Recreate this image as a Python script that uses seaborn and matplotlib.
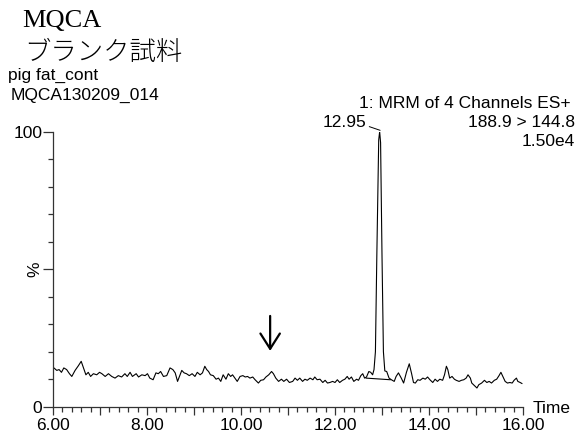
import matplotlib
matplotlib.use("Agg")
import matplotlib.pyplot as plt
import seaborn as sns
import numpy as np
import pandas as pd

# ---- data ----
times = [6.02, 6.08, 6.13, 6.18, 6.23, 6.29, 6.35, 6.40, 6.47, 6.54, 6.60, 6.65, 6.70, 6.75, 6.80,
         6.86, 6.93, 6.99, 7.04, 7.11, 7.18, 7.25, 7.32, 7.39, 7.46, 7.53, 7.58, 7.64, 7.69, 7.77,
         7.82, 7.89, 7.96, 8.01, 8.06, 8.13, 8.19, 8.24, 8.29, 8.35, 8.42, 8.49, 8.55, 8.60, 8.65,
         8.69, 8.74, 8.79, 8.84, 8.90, 8.96, 9.02, 9.07, 9.13, 9.18, 9.23, 9.27, 9.31, 9.35, 9.41,
         9.47, 9.52, 9.57, 9.62, 9.68, 9.73, 9.78, 9.82, 9.87, 9.92, 9.98, 10.04, 10.09, 10.14, 10.19,
         10.25, 10.30, 10.37, 10.42, 10.48, 10.53, 10.59, 10.65, 10.69, 10.74, 10.80, 10.86, 10.91, 10.97, 11.03,
         11.10, 11.15, 11.20, 11.25, 11.31, 11.36, 11.41, 11.47, 11.53, 11.57, 11.62, 11.68, 11.74, 11.79, 11.84,
         11.89, 11.95, 12.00, 12.05, 12.10, 12.16, 12.21, 12.26, 12.30, 12.35, 12.40, 12.46, 12.50, 12.55, 12.59,
         12.63, 12.67, 12.72, 12.76, 12.80, 12.83, 12.86, 12.89, 12.93, 12.95, 12.97, 13.00, 13.03, 13.06, 13.10,
         13.15, 13.20, 13.26, 13.30, 13.35, 13.41, 13.46, 13.52, 13.58, 13.63, 13.67, 13.71, 13.76, 13.81, 13.87,
         13.92, 13.97, 14.02, 14.08, 14.13, 14.18, 14.23, 14.29, 14.33, 14.37, 14.40, 14.44, 14.49, 14.54, 14.58,
         14.64, 14.69, 14.74, 14.79, 14.83, 14.88, 14.91, 14.97, 15.02, 15.06, 15.12, 15.18, 15.23, 15.28, 15.33,
         15.39, 15.44, 15.49, 15.53, 15.57, 15.62, 15.67, 15.72, 15.77, 15.81, 15.86, 15.89, 15.94, 15.98]
intensity = [14.1, 13.2, 13.5, 12.5, 14.1, 13.5, 12.0, 11.0, 13.2, 14.9, 16.5, 14.1, 11.6, 12.5, 11.0,
             12.0, 11.6, 12.5, 12.0, 11.0, 12.0, 11.0, 10.4, 11.3, 10.8, 12.0, 11.0, 12.5, 11.0, 12.0,
             10.8, 11.6, 11.3, 12.0, 10.4, 9.8, 12.3, 12.0, 12.8, 11.0, 11.3, 14.1, 13.5, 12.3, 9.2,
             11.0, 13.2, 12.3, 12.0, 11.3, 12.0, 11.0, 12.5, 11.6, 12.3, 14.7, 13.5, 12.8, 11.6, 11.3,
             10.0, 10.4, 9.2, 11.6, 10.0, 12.0, 11.0, 11.6, 10.4, 9.2, 11.0, 11.3, 10.8, 11.0, 10.4,
             10.8, 9.8, 8.6, 9.6, 9.8, 10.8, 11.6, 12.8, 12.0, 10.4, 9.2, 10.0, 9.2, 10.0, 8.8,
             9.2, 10.4, 9.6, 10.4, 9.2, 10.0, 9.6, 10.4, 9.8, 10.8, 9.8, 10.0, 8.8, 9.6, 8.6,
             8.8, 9.2, 8.8, 9.8, 8.8, 9.6, 10.0, 11.0, 10.0, 10.8, 9.2, 10.0, 9.6, 11.3, 12.0,
             10.4, 10.8, 12.8, 12.5, 11.6, 13.5, 20.0, 55.0, 97.0, 100.0, 96.0, 55.0, 20.0, 13.0, 12.8,
             10.4, 9.8, 9.2, 11.0, 12.3, 10.4, 8.6, 12.5, 15.6, 12.0, 8.8, 8.6, 9.8, 9.6, 10.4,
             10.0, 10.8, 9.8, 8.8, 10.0, 9.2, 10.0, 9.6, 11.6, 14.7, 13.5, 10.4, 11.0, 10.0, 9.6,
             9.2, 9.6, 9.8, 10.4, 11.6, 10.4, 8.6, 7.6, 6.8, 8.0, 8.6, 9.6, 8.8, 9.2, 8.6,
             9.6, 10.0, 11.3, 12.5, 11.0, 9.2, 8.6, 8.8, 8.6, 9.6, 10.4, 9.2, 8.8, 8.4]

baseline_t = [12.66, 13.18]
baseline_v = [10.4, 9.8]
peak_rt = 12.95
peak_label = "12.95"
arrow_t = 10.62
arrow_from, arrow_to = 33.0, 20.3

x_major = [6, 7, 8, 9, 10, 11, 12, 13, 14, 15, 16]
x_labels = ["6.00", "", "8.00", "", "10.00", "", "12.00", "", "14.00", "", "16.00"]
y_major = [0, 50, 100]
y_labels = ["0", "%", "100"]

df = pd.DataFrame({"Time": times, "Intensity": intensity})

sns.set_style("white")
plt.rcParams['font.family'] = ['Liberation Sans', 'Noto Sans CJK JP', 'DejaVu Sans']
plt.rcParams['text.color'] = 'black'
plt.rcParams['xtick.color'] = 'black'
plt.rcParams['ytick.color'] = 'black'

W, H = 581, 443
fig = plt.figure(figsize=(W / 100, H / 100), dpi=100)
ax = fig.add_axes([53 / W, 1 - 406.7 / H, 470 / W, 275 / H])

sns.lineplot(data=df, x="Time", y="Intensity", ax=ax, color="black", lw=0.8,
             estimator=None, sort=False)
ax.plot(baseline_t, baseline_v, color="black", lw=0.8)

ax.set_xlim(6, 16)
ax.set_ylim(0, 100)
ax.set_xlabel("")
ax.set_ylabel("")
for s in ["top", "right"]:
    ax.spines[s].set_visible(False)
for s in ["left", "bottom"]:
    ax.spines[s].set_color("#333333")
    ax.spines[s].set_linewidth(0.9)

ax.set_xticks(x_major, x_labels)
ax.set_xticks(np.arange(6, 16.01, 0.2), minor=True)
ax.set_yticks(y_major, y_labels)
ax.set_yticks(np.arange(10, 100, 10), minor=True)
ax.tick_params(axis="x", which="both", bottom=True, top=False)
ax.tick_params(axis="y", which="both", left=True, right=False)
ax.tick_params(axis="x", which="major", direction="out", length=5.8, width=0.9,
               color="#333333", labelcolor="black", labelsize=12.5, pad=2)
ax.tick_params(axis="x", which="minor", direction="out", length=3.6, width=0.9, color="#333333")
ax.tick_params(axis="y", which="major", direction="out", length=7.2, width=0.9,
               color="#333333", labelcolor="black", labelsize=12.5, pad=0.5)
ax.tick_params(axis="y", which="minor", direction="out", length=3.6, width=0.9, color="#333333")
for lab in ax.get_yticklabels():
    if lab.get_text() == "%":
        lab.set_rotation(90)
        lab.set_va("center")

# arrow
ax.annotate("", xy=(arrow_t, arrow_to), xytext=(arrow_t, arrow_from),
            arrowprops=dict(arrowstyle="->,head_length=0.55,head_width=0.35",
                            lw=1.6, color="black", mutation_scale=20, shrinkA=0, shrinkB=0))

# peak label with leader
ax.annotate(peak_label, xy=(peak_rt + 0.01, 100.5), xytext=(366, 443 - 127),
            textcoords="figure pixels", fontsize=12.5, ha="right", va="baseline",
            arrowprops=dict(arrowstyle="-", lw=0.7, color="black", shrinkA=0, shrinkB=0,
                            relpos=(1.0, 0.3)), annotation_clip=False)

def ftext(x, y, s, **kw):
    fig.text(x / W, 1 - y / H, s, va="baseline", **kw)

ftext(533, 413, "Time", fontsize=12.5)
ftext(22, 27, "MQCA", fontsize=19, family=["Liberation Serif", "DejaVu Serif"])
ftext(24, 60, "ブランク試料", fontsize=19, family=["Noto Sans CJK JP", "DejaVu Sans"], fontweight="light")
ftext(8, 80, "pig fat_cont", fontsize=12.5)
ftext(11, 100, "MQCA130209_014", fontsize=12.5)
ftext(571, 108, "1: MRM of 4 Channels ES+", fontsize=12.5, ha="right")
ftext(575, 127, "188.9 > 144.8", fontsize=12.5, ha="right")
ftext(575, 146, "1.50e4", fontsize=12.5, ha="right")

fig.savefig("out.png", dpi=100)
